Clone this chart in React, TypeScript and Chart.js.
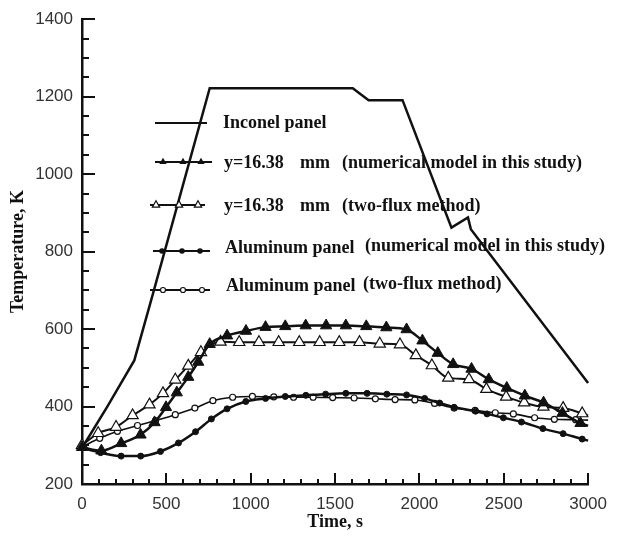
import { useEffect, useRef } from "react";
import { Chart, registerables } from "chart.js";

Chart.register(...registerables);

// ---------- data ----------
const inconelTime = [0, 150, 310, 420, 757, 1605, 1699, 1900, 2190, 2288, 2305, 3000];
const inconelTemp = [293, 400, 519, 690, 1222, 1222, 1191, 1191, 862, 888, 858, 461];

const numTriTime = [0, 115, 232, 347, 430, 498, 562, 630, 689, 757, 860, 972, 1088, 1205, 1326, 1447, 1564, 1685, 1804, 1924, 2018, 2109, 2200, 2309, 2411, 2518, 2625, 2736, 2848, 2955, 3000];
const numTriTemp = [295, 286, 305, 327, 359, 398, 436, 476, 515, 561, 583, 595, 605, 607, 609, 609, 609, 607, 604, 599, 570, 538, 509, 497, 470, 448, 428, 410, 383, 357, 350];

const fluxTriTime = [0, 96, 202, 300, 400, 480, 553, 630, 705, 821, 932, 1049, 1166, 1288, 1409, 1525, 1645, 1765, 1885, 1979, 2074, 2171, 2294, 2397, 2514, 2621, 2735, 2852, 2965, 3000];
const fluxTriTemp = [300, 331, 347, 377, 405, 434, 469, 505, 540, 567, 566, 566, 566, 566, 566, 566, 566, 562, 560, 532, 506, 474, 470, 445, 425, 410, 399, 396, 382, 377];

const alNumTime = [0, 110, 232, 348, 465, 572, 673, 767, 860, 971, 1088, 1205, 1327, 1444, 1564, 1690, 1807, 1924, 2031, 2120, 2206, 2333, 2401, 2498, 2605, 2732, 2852, 2965, 3000];
const alNumTemp = [293, 281, 272, 272, 284, 306, 335, 368, 394, 413, 421, 426, 429, 432, 434, 434, 432, 430, 421, 409, 398, 388, 381, 371, 360, 343, 330, 316, 312];

const alFluxTime = [0, 105, 210, 329, 436, 553, 669, 776, 893, 1010, 1137, 1254, 1370, 1486, 1613, 1739, 1856, 1973, 2090, 2206, 2330, 2450, 2557, 2683, 2800, 2926, 3000];
const alFluxTemp = [296, 318, 336, 351, 364, 379, 396, 415, 424, 426, 425, 424, 424, 423, 422, 420, 418, 417, 408, 396, 390, 384, 381, 371, 367, 366, 365];

const xTickValues = [0, 500, 1000, 1500, 2000, 2500, 3000];
const yTickValues = [200, 400, 600, 800, 1000, 1200, 1400];

const seriesNames = [
  "Inconel panel",
  "y=16.38  mm  (numerical model in this study)",
  "y=16.38  mm  (two-flux method)",
  "Aluminum panel  (numerical model in this study)",
  "Aluminum panel  (two-flux method)",
];

const legendPieces: string[][] = [
  ["Inconel panel"],
  ["y=16.38", "mm", "(numerical model in this study)"],
  ["y=16.38", "mm", "(two-flux method)"],
  ["Aluminum panel", "(numerical model in this study)"],
  ["Aluminum panel", "(two-flux method)"],
];

const xTitle = "Time, s";
const yTitle = "Temperature, K";

// ---------- helpers ----------
const toXY = (xs: number[], ys: number[]) => xs.map((x, i) => ({ x, y: ys[i] }));
const INK = "#111";
const SERIF = "'Liberation Serif', 'Times New Roman', serif";
const SANS = "'Liberation Sans', Arial, sans-serif";

function drawMarker(ctx: CanvasRenderingContext2D, kind: string, x: number, y: number, r: number) {
  ctx.beginPath();
  if (kind.includes("tri")) {
    let rad = 0;
    ctx.moveTo(x + Math.sin(rad) * r, y - Math.cos(rad) * r);
    rad += (2 * Math.PI) / 3;
    ctx.lineTo(x + Math.sin(rad) * r, y - Math.cos(rad) * r);
    rad += (2 * Math.PI) / 3;
    ctx.lineTo(x + Math.sin(rad) * r, y - Math.cos(rad) * r);
    ctx.closePath();
  } else {
    ctx.arc(x, y, r, 0, Math.PI * 2);
  }
  if (kind.startsWith("filled")) {
    ctx.fillStyle = INK;
    ctx.fill();
  } else {
    ctx.fillStyle = "#fff";
    ctx.fill();
    ctx.lineWidth = 1.2;
    ctx.strokeStyle = INK;
    ctx.stroke();
  }
}

const innerTicksPlugin = {
  id: "innerTicks",
  afterDatasetsDraw(chart: any) {
    const { ctx, chartArea } = chart;
    const xs = chart.scales.x;
    const ys = chart.scales.y;
    ctx.save();
    ctx.strokeStyle = INK;
    ctx.lineWidth = 2;
    for (let v = ys.min; v <= ys.max; v += 50) {
      const py = Math.round(ys.getPixelForValue(v));
      const len = yTickValues.includes(v) ? 13 : 7;
      ctx.beginPath();
      ctx.moveTo(chartArea.left, py);
      ctx.lineTo(chartArea.left + len, py);
      ctx.stroke();
    }
    for (let v = xs.min; v <= xs.max; v += 100) {
      const px = Math.round(xs.getPixelForValue(v));
      const len = xTickValues.includes(v) ? 11 : 5;
      ctx.beginPath();
      ctx.moveTo(px, chartArea.bottom);
      ctx.lineTo(px, chartArea.bottom - len);
      ctx.stroke();
    }
    ctx.restore();
  },
};

const legendRows = [
  { lineY: 123, base: [128], xs: [223], lx: [155, 207], marker: "", mx: [] as number[], r: 0 },
  { lineY: 162, base: [168, 168, 168], xs: [224, 300, 342], lx: [155, 212], marker: "filledtri", mx: [163, 183, 201], r: 4.2 },
  { lineY: 205, base: [211, 211, 211], xs: [224, 300, 342], lx: [150, 205], marker: "opentri", mx: [156, 179, 198], r: 4.2 },
  { lineY: 251, base: [253, 251], xs: [225, 365], lx: [153, 210], marker: "filledcircle", mx: [162, 182, 200], r: 2.8 },
  { lineY: 290, base: [291, 289], xs: [226, 363], lx: [150, 210], marker: "opencircle", mx: [163, 183, 202], r: 2.5 },
];

const legendPlugin = {
  id: "innerLegend",
  afterDraw(chart: any) {
    const { ctx } = chart;
    ctx.save();
    legendRows.forEach((row, i) => {
      ctx.strokeStyle = INK;
      ctx.lineWidth = 2;
      ctx.beginPath();
      ctx.moveTo(row.lx[0], row.lineY);
      ctx.lineTo(row.lx[1], row.lineY);
      ctx.stroke();
      row.mx.forEach((mx) => drawMarker(ctx, row.marker, mx, row.lineY, row.r));
      ctx.fillStyle = INK;
      ctx.font = `bold 18px ${SERIF}`;
      ctx.textBaseline = "alphabetic";
      ctx.textAlign = "left";
      legendPieces[i].forEach((t, k) => ctx.fillText(t, row.xs[k], row.base[k]));
    });
    ctx.restore();
  },
};

export default function App() {
  const ref = useRef<HTMLCanvasElement | null>(null);

  useEffect(() => {
    document.body.style.margin = "0";
    if (!ref.current) return;
    const mk = (
      label: string,
      xs: number[],
      ys: number[],
      style: string,
      radius: number,
      width: number,
      smooth: boolean
    ) => {
      const n = xs.length;
      return {
        label,
        data: toXY(xs, ys),
        borderColor: INK,
        borderWidth: width,
        backgroundColor: style.startsWith("filled") ? INK : "#fff",
        pointStyle: style.includes("tri") ? "triangle" : "circle",
        pointRadius: (c: any) => (style && c.dataIndex < n - 1 ? radius : 0),
        pointHoverRadius: 0,
        pointBorderColor: INK,
        pointBackgroundColor: style.startsWith("filled") ? INK : "#fff",
        pointBorderWidth: style.startsWith("filled") ? 1 : 1.2,
        fill: false,
        tension: smooth ? 0.3 : 0,
        cubicInterpolationMode: smooth ? "monotone" : "default",
        clip: false,
      };
    };

    const chart = new Chart(ref.current, {
      type: "line",
      data: {
        datasets: [
          mk(seriesNames[0], inconelTime, inconelTemp, "", 0, 2.5, false),
          mk(seriesNames[1], numTriTime, numTriTemp, "filledtri", 6.5, 2.5, true),
          mk(seriesNames[2], fluxTriTime, fluxTriTemp, "opentri", 6.5, 2, true),
          mk(seriesNames[3], alNumTime, alNumTemp, "filledcircle", 3, 2.5, true),
          mk(seriesNames[4], alFluxTime, alFluxTemp, "opencircle", 3, 1.6, true),
        ] as any,
      },
      options: {
        animation: false,
        responsive: false,
        events: [],
        layout: { padding: { left: 0, right: 21, top: 15, bottom: 0 } },
        plugins: { legend: { display: false }, tooltip: { enabled: false } },
        scales: {
          x: {
            type: "linear",
            min: 0,
            max: 3000,
            afterBuildTicks: (s: any) => {
              s.ticks = xTickValues.map((v) => ({ value: v }));
            },
            afterFit: (s: any) => {
              s.height = 58;
            },
            grid: { display: false, drawTicks: false },
            border: { display: true, color: INK, width: 2.5 },
            ticks: {
              color: "#333",
              font: { family: SANS, size: 17 },
              padding: 10,
              maxRotation: 0,
              callback: (v: any) => String(v),
            },
            title: {
              display: true,
              text: xTitle,
              color: INK,
              font: { family: SERIF, size: 18, weight: "bold" },
              padding: { top: 0, bottom: 9 },
            },
          },
          y: {
            type: "linear",
            min: 200,
            max: 1400,
            afterBuildTicks: (s: any) => {
              s.ticks = yTickValues.map((v) => ({ value: v }));
            },
            afterFit: (s: any) => {
              s.width = 82;
            },
            grid: { display: false, drawTicks: false },
            border: { display: true, color: INK, width: 2.5 },
            ticks: {
              color: "#333",
              font: { family: SANS, size: 17 },
              padding: 9,
              callback: (v: any) => String(v),
            },
            title: {
              display: true,
              text: yTitle,
              color: INK,
              font: { family: SERIF, size: 18, weight: "bold" },
              padding: { top: 8, bottom: 0 },
            },
          },
        },
      } as any,
      plugins: [innerTicksPlugin, legendPlugin],
    });
    return () => chart.destroy();
  }, []);

  return (
    <div style={{ width: 617, height: 542 }}>
      <canvas ref={ref} width={617} height={542} style={{ display: "block" }} />
    </div>
  );
}
